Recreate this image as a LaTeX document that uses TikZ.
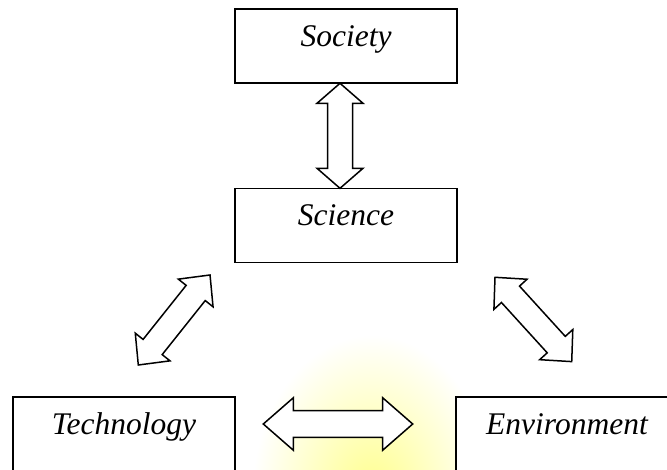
\documentclass[tikz,border=0pt]{standalone}
\usepackage{fontspec}
\setmainfont{Liberation Serif}[ItalicFont={Liberation Serif Italic}]
\tikzset{
  box/.style={draw=black, line width=1.6pt, fill=white, minimum width=222.4pt,
    inner xsep=0pt, inner ysep=0pt, text height=37.5pt, text depth=36.5pt,
    font=\fontsize{31.5}{36}\selectfont\itshape},
  arrowline/.style={draw=black, line width=1.5pt, fill=white, line join=miter},
  pics/dbl/.style n args={4}{code={
    \path[arrowline] (0,0) -- (#2,#3) -- (#2,#4) -- ({#1-#2},#4) -- ({#1-#2},#3) -- (#1,0)
      -- ({#1-#2},-#3) -- ({#1-#2},-#4) -- (#2,-#4) -- (#2,-#3) -- cycle;
  }}
}
\begin{document}
\begin{tikzpicture}[x=1pt, y=-1pt]
\useasboundingbox (0,0) rectangle (667,470);
\clip (0,0) rectangle (667,470);
% faint yellow glow at the bottom
\shade[inner color=yellow!45!white, outer color=white] (372,495) ellipse [x radius=120, y radius=160];
% boxes
\node[box] (soc) at (346,46.2) {Society};
\node[box] (sci) at (346,225.5) {Science};
\node[box] (tech) at (124,434) {Technology};
\node[box] (env) at (567,434) {Environment};
% arrow end points
\coordinate (vb) at (340,188.3);
\coordinate (hl) at (263.3,424);
\coordinate (ld) at (138.3,365);
\coordinate (rd) at (495,277.3);
% arrows
\pic[rotate=90] at (vb) {dbl={105}{20}{23}{12.5}};
\pic at (hl) {dbl={149.4}{30}{26.2}{13.3}};
\pic[rotate=51.45] at (ld) {dbl={115.1}{23}{22.2}{12.2}};
\pic[rotate=-47.7] at (rd) {dbl={114}{23}{22.4}{12.2}};
\end{tikzpicture}
\end{document}
